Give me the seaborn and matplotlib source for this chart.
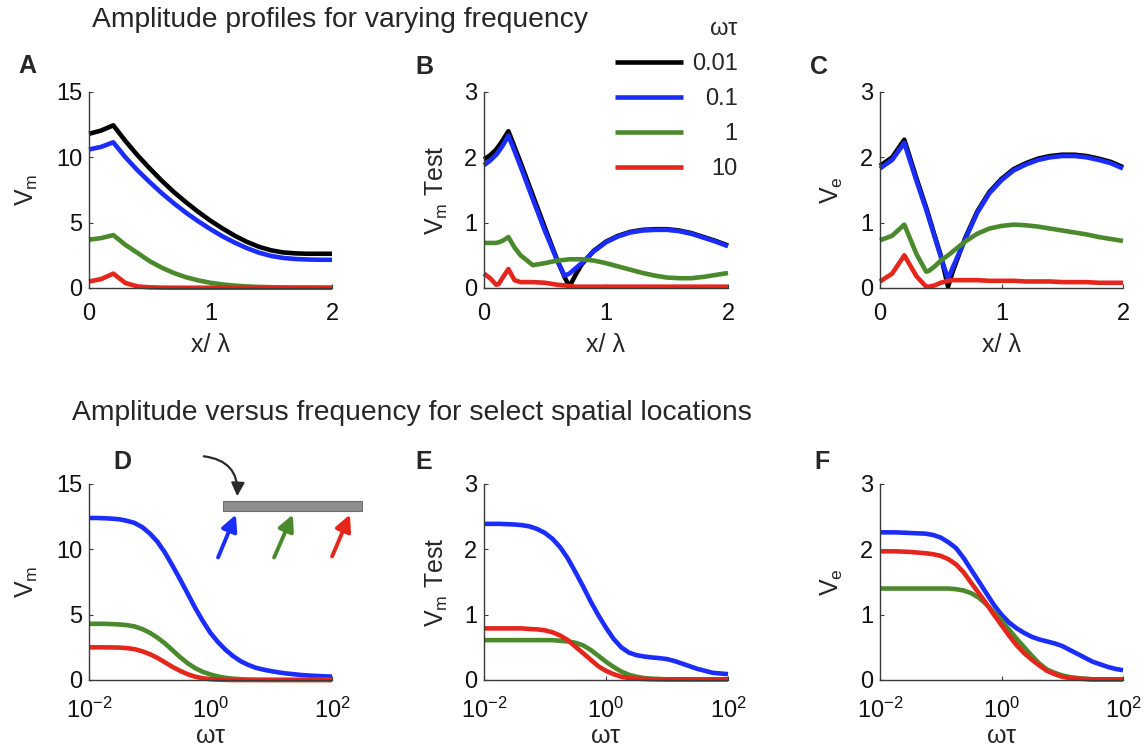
import numpy as np
import pandas as pd
import matplotlib
matplotlib.use("Agg")
import matplotlib.pyplot as plt
import seaborn as sns
from matplotlib.lines import Line2D
from matplotlib.patches import FancyArrowPatch, Rectangle

# ------------------------------------------------------------------ data
freq_labels = ["0.01", "0.1", "1", "10"]          # legend (omega*tau)
site_labels = ["site 1", "site 2", "site 3"]      # panels D-F (blue, green, red arrows)

# Panel A : Vm vs x/lambda
a_x = [0, 0.1, 0.2, 0.3, 0.4, 0.5, 0.6, 0.7, 0.8, 0.9, 1.0, 1.1, 1.2, 1.3, 1.4, 1.5, 1.6, 1.7, 1.8, 1.9, 2.0]
a_black = [11.8, 12.05, 12.45, 11.25, 10.15, 9.15, 8.2, 7.33, 6.55, 5.82, 5.15, 4.55, 4.0, 3.53, 3.15, 2.88, 2.72, 2.65, 2.62, 2.62, 2.62]
a_blue = [10.6, 10.8, 11.15, 10.0, 9.0, 8.1, 7.25, 6.47, 5.75, 5.1, 4.5, 3.95, 3.47, 3.05, 2.7, 2.45, 2.3, 2.22, 2.18, 2.16, 2.16]
a_green = [3.7, 3.82, 4.05, 3.3, 2.68, 2.05, 1.55, 1.14, 0.82, 0.58, 0.4, 0.27, 0.18, 0.12, 0.08, 0.06, 0.04, 0.03, 0.03, 0.02, 0.02]
a_red = [0.5, 0.68, 1.1, 0.38, 0.12, 0.05, 0.03, 0.02, 0.02, 0.02, 0.02, 0.02, 0.02, 0.02, 0.02, 0.02, 0.02, 0.02, 0.02, 0.02, 0.02]

# Panel B : Vm Test vs x/lambda
b_x = [0, 0.05, 0.1, 0.12, 0.15, 0.2, 0.25, 0.3, 0.4, 0.5, 0.6, 0.66, 0.7, 0.75, 0.8, 0.9, 1.0, 1.1, 1.2, 1.3, 1.4, 1.5, 1.6, 1.7, 1.8, 1.9, 2.0]
b_black = [1.97, 2.03, 2.12, 2.17, 2.25, 2.4, 2.16, 1.92, 1.42, 0.92, 0.43, 0.17, 0.02, 0.2, 0.36, 0.57, 0.71, 0.8, 0.86, 0.89, 0.9, 0.9, 0.88, 0.84, 0.78, 0.72, 0.65]
b_blue = [1.88, 1.95, 2.04, 2.09, 2.17, 2.33, 2.1, 1.86, 1.36, 0.87, 0.42, 0.19, 0.22, 0.3, 0.38, 0.56, 0.7, 0.79, 0.85, 0.88, 0.89, 0.89, 0.87, 0.83, 0.77, 0.71, 0.64]
b_green = [0.69, 0.69, 0.69, 0.7, 0.72, 0.78, 0.62, 0.5, 0.35, 0.38, 0.42, 0.43, 0.44, 0.44, 0.44, 0.42, 0.38, 0.33, 0.28, 0.23, 0.19, 0.16, 0.15, 0.15, 0.17, 0.2, 0.23]
b_red = [0.22, 0.15, 0.05, 0.06, 0.15, 0.29, 0.12, 0.09, 0.09, 0.08, 0.05, 0.04, 0.03, 0.02, 0.02, 0.02, 0.02, 0.02, 0.02, 0.02, 0.02, 0.02, 0.02, 0.02, 0.02, 0.02, 0.02]

# Panel C : Ve vs x/lambda
c_x = [0, 0.1, 0.2, 0.3, 0.38, 0.4, 0.45, 0.5, 0.56, 0.6, 0.7, 0.8, 0.9, 1.0, 1.1, 1.2, 1.3, 1.4, 1.5, 1.6, 1.7, 1.8, 1.9, 2.0]
c_black = [1.87, 2.0, 2.27, 1.68, 1.23, 1.11, 0.8, 0.5, 0.02, 0.26, 0.76, 1.17, 1.47, 1.67, 1.82, 1.91, 1.98, 2.02, 2.04, 2.04, 2.02, 1.98, 1.93, 1.85]
c_blue = [1.83, 1.96, 2.22, 1.64, 1.2, 1.08, 0.78, 0.48, 0.14, 0.32, 0.74, 1.15, 1.45, 1.65, 1.8, 1.89, 1.96, 2.0, 2.02, 2.02, 2.0, 1.96, 1.91, 1.83]
c_green = [0.73, 0.8, 0.97, 0.52, 0.25, 0.26, 0.33, 0.42, 0.5, 0.56, 0.71, 0.83, 0.91, 0.95, 0.97, 0.96, 0.94, 0.91, 0.88, 0.85, 0.82, 0.78, 0.75, 0.72]
c_red = [0.1, 0.22, 0.5, 0.18, 0.02, 0.02, 0.04, 0.08, 0.11, 0.12, 0.12, 0.12, 0.11, 0.11, 0.11, 0.1, 0.1, 0.1, 0.09, 0.09, 0.09, 0.08, 0.08, 0.08]

# Panels D-F : amplitude vs omega*tau (1/8-decade steps)
w_tau = [0.01, 0.0133, 0.0178, 0.0237, 0.0316, 0.0422, 0.0562, 0.075, 0.1, 0.133, 0.178,
         0.237, 0.316, 0.422, 0.562, 0.75, 1.0, 1.33, 1.78, 2.37, 3.16, 4.22, 5.62, 7.5,
         10.0, 13.3, 17.8, 23.7, 31.6, 42.2, 56.2, 75.0, 100.0]
d_blue = [12.4, 12.4, 12.38, 12.35, 12.3, 12.18, 12.02, 11.7, 11.22, 10.6, 9.75, 8.75, 7.7, 6.6, 5.5, 4.5,
          3.6, 2.9, 2.3, 1.82, 1.43, 1.15, 0.93, 0.79, 0.68, 0.58, 0.5, 0.44, 0.38, 0.34, 0.31, 0.28, 0.26]
d_green = [4.3, 4.3, 4.3, 4.28, 4.25, 4.2, 4.1, 3.9, 3.62, 3.25, 2.8, 2.28, 1.75, 1.28, 0.9, 0.62,
           0.42, 0.27, 0.16, 0.1, 0.06, 0.035, 0.02, 0.015, 0.01, 0.01, 0.01, 0.01, 0.01, 0.01, 0.01, 0.01, 0.01]
d_red = [2.5, 2.5, 2.5, 2.49, 2.48, 2.44, 2.36, 2.2, 1.98, 1.7, 1.35, 1.0, 0.7, 0.44, 0.25, 0.13,
         0.06, 0.03, 0.01, 0.0, 0.0, 0.0, 0.0, 0.0, 0.0, 0.0, 0.0, 0.0, 0.0, 0.0, 0.0, 0.0, 0.0]

e_blue = [2.39, 2.39, 2.39, 2.385, 2.38, 2.37, 2.35, 2.31, 2.25, 2.16, 2.03, 1.86, 1.65, 1.43, 1.2, 0.99,
          0.8, 0.63, 0.5, 0.42, 0.38, 0.36, 0.345, 0.335, 0.32, 0.29, 0.25, 0.21, 0.17, 0.14, 0.11, 0.1, 0.09]
e_green = [0.61, 0.61, 0.61, 0.61, 0.61, 0.61, 0.61, 0.61, 0.61, 0.61, 0.6, 0.59, 0.57, 0.53, 0.46, 0.37,
           0.28, 0.2, 0.13, 0.08, 0.05, 0.03, 0.02, 0.015, 0.01, 0.01, 0.01, 0.01, 0.01, 0.01, 0.01, 0.01, 0.01]
e_red = [0.79, 0.79, 0.79, 0.79, 0.79, 0.79, 0.78, 0.775, 0.76, 0.73, 0.68, 0.61, 0.51, 0.41, 0.31, 0.21,
         0.14, 0.09, 0.05, 0.03, 0.02, 0.015, 0.01, 0.01, 0.01, 0.01, 0.01, 0.01, 0.01, 0.01, 0.01, 0.01, 0.01]

f_blue = [2.26, 2.26, 2.26, 2.255, 2.25, 2.245, 2.24, 2.22, 2.18, 2.11, 2.02, 1.87, 1.69, 1.51, 1.33, 1.15,
          1.0, 0.88, 0.79, 0.72, 0.66, 0.62, 0.59, 0.56, 0.52, 0.46, 0.4, 0.34, 0.28, 0.24, 0.2, 0.17, 0.15]
f_green = [1.4, 1.4, 1.4, 1.4, 1.4, 1.4, 1.4, 1.4, 1.4, 1.4, 1.39, 1.37, 1.33, 1.26, 1.16, 1.04,
           0.91, 0.77, 0.63, 0.5, 0.37, 0.25, 0.16, 0.11, 0.07, 0.045, 0.03, 0.02, 0.01, 0.01, 0.01, 0.01, 0.01]
f_red = [1.97, 1.97, 1.97, 1.965, 1.96, 1.95, 1.94, 1.925, 1.9, 1.85, 1.77, 1.65, 1.49, 1.33, 1.17, 1.0,
         0.84, 0.68, 0.53, 0.41, 0.31, 0.22, 0.14, 0.09, 0.05, 0.03, 0.02, 0.015, 0.01, 0.01, 0.01, 0.01, 0.01]

# ------------------------------------------------------------------ style
sns.set_theme(style="white")
plt.rcParams["font.family"] = ["Liberation Sans", "DejaVu Sans"]
plt.rcParams["mathtext.fontset"] = "custom"
plt.rcParams["mathtext.rm"] = "Liberation Sans"
plt.rcParams["mathtext.it"] = "Liberation Sans:italic"
plt.rcParams["mathtext.default"] = "regular"
plt.rcParams["lines.solid_joinstyle"] = "round"
plt.rcParams["lines.solid_capstyle"] = "butt"

BLACK, BLUE, GREEN, RED = "#000000", "#1b2dfa", "#4b8a2c", "#e4261c"
freq_colors = dict(zip(freq_labels, [BLACK, BLUE, GREEN, RED]))
site_colors = dict(zip(site_labels, [BLUE, GREEN, RED]))
AXCOL = "#3a3a3a"
TICK_FS = 17
LAB_FS = 18
LW = 3.3

W, H = 1146, 747
fig = plt.figure(figsize=(W / 100, H / 100), dpi=100)


def px_rect(x0, y0, x1, y1):
    return [x0 / W, 1 - y1 / H, (x1 - x0) / W, (y1 - y0) / H]


def long_df(x, series, labels):
    frames = [pd.DataFrame({"x": x, "v": s, "series": lab}) for s, lab in zip(series, labels)]
    return pd.concat(frames, ignore_index=True)


def style_axes(ax, xpad):
    for s in ["top", "right"]:
        ax.spines[s].set_visible(False)
    for s in ["left", "bottom"]:
        ax.spines[s].set_color(AXCOL)
        ax.spines[s].set_linewidth(1.0)
    ax.tick_params(axis="both", which="major", direction="in", length=3, width=0.8,
                   color=AXCOL, labelsize=TICK_FS, left=True, bottom=True, labelcolor="#111111")
    ax.tick_params(axis="y", which="major", pad=5)
    ax.tick_params(axis="x", which="major", pad=xpad)
    ax.tick_params(axis="both", which="minor", length=0)
    ax.set_facecolor("white")


top_rects = [px_rect(89, 92, 332, 288), px_rect(484, 92, 728, 288), px_rect(880, 92, 1123, 288)]
bot_rects = [px_rect(89, 484, 332, 680), px_rect(484, 484, 728, 680), px_rect(880, 484, 1123, 680)]

top_data = [
    (a_x, [a_black, a_blue, a_green, a_red], 15, [0, 5, 10, 15], r"V$_m$"),
    (b_x, [b_black, b_blue, b_green, b_red], 3, [0, 1, 2, 3], r"V$_m$ Test"),
    (c_x, [c_black, c_blue, c_green, c_red], 3, [0, 1, 2, 3], r"V$_e$"),
]
bot_data = [
    ([d_blue, d_green, d_red], 15, [0, 5, 10, 15], r"V$_m$"),
    ([e_blue, e_green, e_red], 3, [0, 1, 2, 3], r"V$_m$ Test"),
    ([f_blue, f_green, f_red], 3, [0, 1, 2, 3], r"V$_e$"),
]
ylab_x = [-0.2016, -0.139, -0.144]

axes_top = []
for i, (rect, (x, ser, ymax, yt, ylab)) in enumerate(zip(top_rects, top_data)):
    ax = fig.add_axes(rect)
    df = long_df(x, ser, freq_labels)
    sns.lineplot(data=df, x="x", y="v", hue="series", hue_order=freq_labels,
                 palette=freq_colors, estimator=None, linewidth=LW, legend=False,
                 ax=ax, clip_on=False)
    ax.set_xlim(0, 2)
    ax.set_ylim(0, ymax)
    ax.set_xticks([0, 1, 2])
    ax.set_xticklabels(["0", "1", "2"])
    ax.set_yticks(yt)
    ax.set_yticklabels([str(t) for t in yt])
    style_axes(ax, 11)
    ax.set_xlabel("x/ λ", fontsize=LAB_FS)
    ax.set_ylabel(ylab, fontsize=LAB_FS)
    ax.xaxis.label.set_va("center")
    ax.xaxis.set_label_coords(0.5, -0.291)
    ax.yaxis.set_label_coords(ylab_x[i], 0.5)
    axes_top.append(ax)

axes_bot = []
for i, (rect, (ser, ymax, yt, ylab)) in enumerate(zip(bot_rects, bot_data)):
    ax = fig.add_axes(rect)
    df = long_df(w_tau, ser, site_labels)
    sns.lineplot(data=df, x="x", y="v", hue="series", hue_order=site_labels,
                 palette=site_colors, estimator=None, linewidth=LW, legend=False,
                 ax=ax, clip_on=False)
    ax.set_xscale("log")
    ax.set_xlim(0.01, 100)
    ax.set_ylim(0, ymax)
    ax.set_xticks([0.01, 1, 100])
    ax.set_xticklabels([r"$10^{-2}$", r"$10^{0}$", r"$10^{2}$"])
    ax.set_yticks(yt)
    ax.set_yticklabels([str(t) for t in yt])
    style_axes(ax, 13)
    ax.set_xlabel("ωτ", fontsize=LAB_FS)
    ax.set_ylabel(ylab, fontsize=LAB_FS)
    ax.xaxis.label.set_va("center")
    ax.xaxis.set_label_coords(0.5, -0.286)
    ax.yaxis.set_label_coords(ylab_x[i], 0.5)
    axes_bot.append(ax)

# legend (panel B)
handles = [Line2D([], [], color=freq_colors[l], lw=LW) for l in freq_labels]
leg = axes_top[1].legend(handles, freq_labels, title="ωτ", frameon=False,
                         fontsize=TICK_FS, title_fontsize=TICK_FS, handlelength=2.9,
                         handletextpad=0.35, labelspacing=0.55, alignment="right",
                         loc="upper left", bbox_to_anchor=(615 / W, 1 - 18 / H),
                         bbox_transform=fig.transFigure, borderaxespad=0, borderpad=0)

# titles and panel letters
fig.text(92 / W, 1 - 20 / H, "Amplitude profiles for varying frequency",
         fontsize=20.3, ha="left", va="center")
fig.text(72 / W, 1 - 413 / H, "Amplitude versus frequency for select spatial locations",
         fontsize=20.3, ha="left", va="center")
for lab, (px, py) in zip("ABCDEF", [(27, 66), (424, 67), (819, 67), (122, 462), (424, 462), (822, 462)]):
    fig.text(px / W, 1 - py / H, lab, fontsize=18, fontweight="bold", ha="center", va="center")

# inset schematic in panel D (cable and stimulation / recording arrows)
def fp(x, y):
    return (x / W, 1 - y / H)

x0, y0 = fp(223, 511)
x1, y1 = fp(362, 501)
fig.add_artist(Rectangle((x0, y0), x1 - x0, y1 - y0, transform=fig.transFigure,
                         facecolor="#8e8e8e", edgecolor="#6e6e6e", lw=0.8))
fig.add_artist(FancyArrowPatch(fp(201, 456), fp(237, 499), transform=fig.transFigure,
                               connectionstyle="arc3,rad=-0.5", arrowstyle="-|>",
                               mutation_scale=20, lw=1.6, color="#2a2a2a"))
for (tx, ty, hx, hy), col in zip([(217, 560, 237, 512), (273, 560, 294, 512), (331, 559, 351, 512)],
                                 [BLUE, GREEN, RED]):
    fig.add_artist(FancyArrowPatch(fp(tx, ty), fp(hx, hy), transform=fig.transFigure,
                                   arrowstyle="-|>", mutation_scale=24, lw=2.8, color=col))

# right-align the legend labels (as in the reference)
fig.canvas.draw()
rend = fig.canvas.get_renderer()
texts = leg.get_texts()
widths = [t.get_window_extent(rend).width for t in texts]
wmax = max(widths)
for t, w in zip(texts, widths):
    t.set_x(wmax - w)

fig.savefig("out.png", dpi=100, facecolor="white")
